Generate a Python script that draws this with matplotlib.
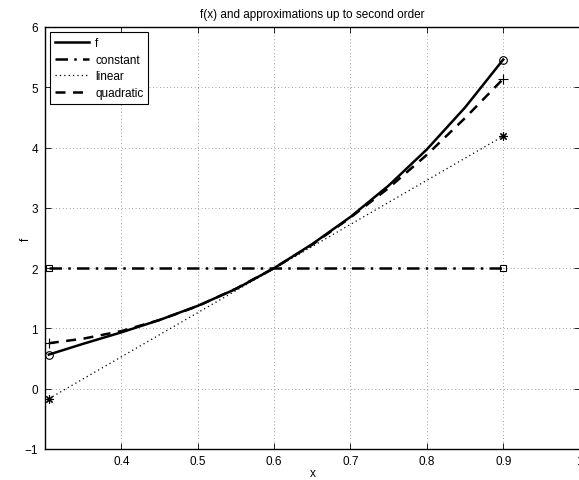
import matplotlib

matplotlib.use("Agg")
import matplotlib.pyplot as plt

plt.rcParams["font.family"] = ["Liberation Sans", "DejaVu Sans"]

# f(x)
x_f = [0.305, 0.35, 0.4, 0.45, 0.5, 0.55, 0.6, 0.65, 0.7, 0.75, 0.8, 0.85, 0.9]
y_f = [0.566, 0.745, 0.935, 1.14, 1.375, 1.655, 2.0, 2.40, 2.85, 3.37, 3.97, 4.665, 5.46]

# quadratic approximation
x_q = [0.305, 0.35, 0.4, 0.45, 0.5, 0.55, 0.6, 0.65, 0.7, 0.75, 0.8, 0.85, 0.9]
y_q = [0.755, 0.83, 0.956, 1.14, 1.37, 1.66, 2.0, 2.39, 2.84, 3.33, 3.88, 4.49, 5.14]

# constant and linear approximations
x_c = [0.305, 0.9]
y_c = [2.0, 2.0]
x_l = [0.305, 0.9]
y_l = [-0.166, 4.19]

x_ticks = [0.4, 0.5, 0.6, 0.7, 0.8, 0.9, 1.0]
x_tick_labels = ["0.4", "0.5", "0.6", "0.7", "0.8", "0.9", "1"]
y_ticks = [-1, 0, 1, 2, 3, 4, 5, 6]

fig = plt.figure(figsize=(5.79, 4.81), dpi=100)
ax = fig.add_axes([45 / 579, 1 - 450 / 481, 534.6 / 579, 422 / 481])

ax.plot(x_f, y_f, color="black", linewidth=1.8, label="f")
ax.plot(x_c, y_c, color="black", linewidth=1.8, linestyle=(0, (5, 2.5, 1, 2.5)), label="constant")
ax.plot(x_l, y_l, color="black", linewidth=0.9, linestyle=(0, (1, 2.5)), label="linear")
ax.plot(x_q, y_q, color="black", linewidth=1.8, linestyle=(0, (4, 3)), label="quadratic")

# end point markers
ax.plot([x_f[0], x_f[-1]], [y_f[0], y_f[-1]], "o", mfc="none", mec="black", ms=5.5, mew=0.8)
ax.plot(x_c, y_c, "s", mfc="none", mec="black", ms=5, mew=0.8)
ax.plot(x_l, y_l, marker=(8, 2, 0), linestyle="none", color="black", ms=6, mew=0.8)
ax.plot([x_q[0], x_q[-1]], [y_q[0], y_q[-1]], "+", color="black", ms=7, mew=0.8)

ax.set_xlim(0.3, 1.0)
ax.set_ylim(-1, 6)
ax.set_xticks(x_ticks)
ax.set_xticklabels(x_tick_labels)
ax.set_yticks(y_ticks)
ax.grid(True, color="black", linewidth=0.5, linestyle=(0, (1, 4)), alpha=0.7)
ax.tick_params(direction="in", top=True, right=True, labelsize=8.5, length=4, width=0.6)
ax.tick_params(axis="x", pad=4)
ax.tick_params(axis="y", pad=5)
for spine in ax.spines.values():
    spine.set_linewidth(1.0)

ax.set_title("f(x) and approximations up to second order", fontsize=8.5, pad=7)
ax.set_xlabel("x", fontsize=8.5, labelpad=0)
ax.set_ylabel("f", fontsize=8.5, labelpad=-5)

leg = ax.legend(loc="upper left", fontsize=8.5, handlelength=2.9, handletextpad=0.5,
                labelspacing=0.4, borderaxespad=0.45, borderpad=0.4, fancybox=False,
                framealpha=1, edgecolor="black")
leg.get_frame().set_linewidth(0.8)

fig.savefig("out.png", dpi=100)
